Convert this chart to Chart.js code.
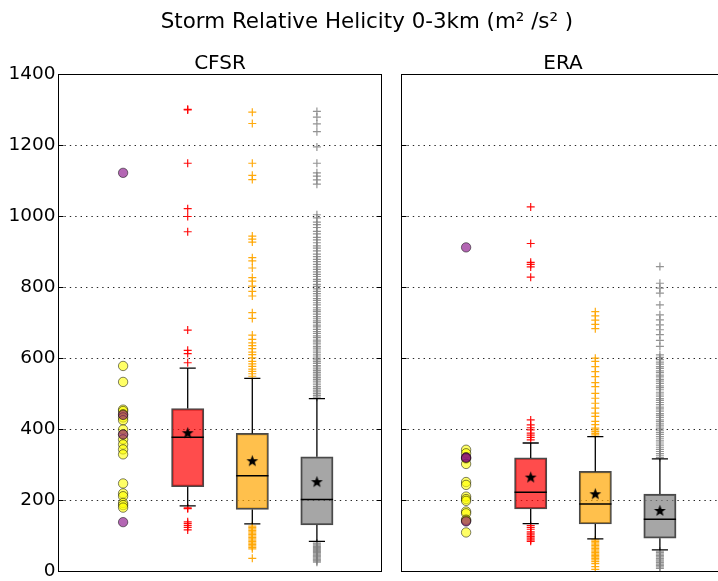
<!DOCTYPE html>
<html><head><meta charset="utf-8">
<script src="https://cdn.jsdelivr.net/npm/chart.js@4/dist/chart.umd.min.js"></script>
<style>
html,body{margin:0;padding:0;background:#fff;overflow:hidden;width:718px;height:581px;}
#wrap{position:relative;width:718px;height:581px;overflow:hidden;}
#c1{position:absolute;left:0;top:0;}
#c2{position:absolute;left:390px;top:0;}
</style></head><body>
<div id="wrap"><canvas id="c1" width="734" height="581"></canvas><canvas id="c2" width="345" height="581"></canvas></div>
<script>
// ---------- DATA ----------
const mainTitle = 'Storm Relative Helicity 0-3km (m² /s² )';
const panelNames = ['CFSR', 'ERA'];
const yTickValues = [0, 200, 400, 600, 800, 1000, 1200, 1400];
const circlePosition = 1;
const boxPositions = [2, 3, 4]; // red, orange, gray

const cfsrYellow = [579, 534, 456, 452, 443, 434, 426, 400, 386, 372, 358, 344, 330, 248, 220, 212, 193, 187, 180];
const cfsrPurple = [1123, 441, 386, 139];
const cfsrQ1 = [239, 175, 131];
const cfsrMedian = [378, 270, 203];
const cfsrQ3 = [459, 389, 323];
const cfsrMean = [391, 312, 253];
const cfsrLowWhisker = [185, 134, 85];
const cfsrHighWhisker = [573, 544, 487];
const cfsrRedOutliers = [1302, 1300, 1150, 1022, 1000, 957, 680, 623, 614, 588, 179, 177, 140, 135, 129, 124, 117];
const cfsrOrangeOutliers = [1294, 1262, 1150, 1116, 1104, 945, 936, 928, 884, 875, 855, 828, 818, 804, 789, 776, 729, 713, 666, 654, 644, 636, 628, 618, 611, 602, 592, 585, 578, 570, 564, 557, 550, 128, 124, 120, 116, 112, 108, 104, 100, 96, 92, 88, 84, 80, 76, 72, 68, 64, 37];
const cfsrGrayOutliers = [1296, 1280, 1261, 1239, 1196, 1150, 1123, 1114, 1103, 1091, 1005, 996, 984, 977, 969, 958, 951, 941, 934, 926, 917, 911, 903, 894, 887, 879, 873, 865, 858, 851, 844, 837, 831, 823, 817, 809, 803, 796, 789, 783, 776, 769, 764, 757, 751, 743, 737, 732, 725, 718, 712, 706, 701, 694, 689, 682, 676, 671, 664, 659, 652, 647, 641, 634, 629, 624, 618, 612, 607, 601, 596, 591, 586, 580, 576, 571, 566, 561, 556, 551, 546, 541, 536, 531, 526, 521, 516, 511, 506, 501, 496, 491, 80, 77, 74, 71, 68, 65, 62, 59, 56, 53, 50, 47, 44, 41, 38, 35, 32, 29, 26];

const eraYellow = [343, 333, 318, 303, 252, 244, 211, 204, 199, 169, 164, 146, 143, 110];
const eraPurple = [913, 322, 320, 141];
const eraQ1 = [176, 134, 94];
const eraMedian = [223, 190, 147];
const eraQ3 = [320, 282, 218];
const eraMean = [266, 219, 172];
const eraLowWhisker = [135, 92, 61];
const eraHighWhisker = [362, 380, 317];
const eraRedOutliers = [1027, 924, 871, 865, 858, 829, 427, 413, 405, 399, 390, 384, 378, 371, 129, 124, 119, 112, 108, 103, 98, 94, 89, 85];
const eraOrangeOutliers = [732, 720, 708, 696, 684, 601, 592, 577, 563, 549, 532, 521, 502, 488, 474, 460, 446, 437, 423, 414, 404, 399, 394, 389, 385, 89, 85, 81, 77, 73, 69, 65, 61, 57, 53, 49, 45, 41, 37, 33, 28, 22, 14, 6];
const eraGrayOutliers = [859, 812, 798, 784, 751, 723, 709, 695, 681, 667, 651, 634, 610, 603, 597, 590, 584, 577, 572, 565, 560, 553, 548, 541, 536, 530, 523, 518, 512, 505, 500, 494, 487, 482, 476, 470, 463, 458, 452, 445, 440, 434, 427, 422, 416, 410, 404, 398, 392, 386, 380, 374, 368, 362, 356, 350, 344, 338, 332, 326, 321, 57, 53, 49, 45, 41, 37, 33, 29, 25, 21, 17, 13, 9];

// ---------- STYLE ----------
const FONT = 'DejaVu Sans';
const boxFill = ['rgba(255,0,0,0.7)', 'rgba(255,165,0,0.7)', 'rgba(128,128,128,0.7)'];
const outlierColor = ['rgba(255,0,0,0.95)', 'rgba(255,165,0,0.95)', 'rgba(128,128,128,0.85)'];
const BOX_HALF = 0.25, CAP_HALF = 0.125;

function makeStar(size) {
  const c = document.createElement('canvas'); c.width = c.height = size;
  const g = c.getContext('2d'); const cx = size / 2, cy = size / 2 + 0.5, R = size / 2 - 0.3, r = R * 0.42;
  g.beginPath();
  for (let i = 0; i < 10; i++) {
    const a = -Math.PI / 2 + i * Math.PI / 5, rad = i % 2 === 0 ? R : r;
    g.lineTo(cx + rad * Math.cos(a), cy + rad * Math.sin(a));
  }
  g.closePath(); g.fillStyle = '#000'; g.fill();
  return c;
}
const starImg = makeStar(13);

const framePlugin = {
  id: 'frame',
  afterDatasetsDraw(chart) {
    const {ctx, chartArea: a, scales: {y}} = chart;
    ctx.save();
    ctx.strokeStyle = '#000'; ctx.lineWidth = 1; ctx.setLineDash([]);
    ctx.strokeRect(a.left, a.top, a.right - a.left, a.bottom - a.top);
    ctx.beginPath();
    for (const v of yTickValues) {
      const py = y.getPixelForValue(v);
      ctx.moveTo(a.left, py); ctx.lineTo(a.left + 5, py);
      ctx.moveTo(a.right, py); ctx.lineTo(a.right - 5, py);
    }
    ctx.stroke(); ctx.restore();
  }
};

function buildDatasets(d) {
  const ds = [];
  ds.push({type: 'scatter', data: d.purple.map(v => ({x: circlePosition, y: v})), pointStyle: 'circle', pointRadius: 4.7,
    backgroundColor: 'rgba(128,0,128,0.6)', borderColor: 'rgba(0,0,0,0.5)', borderWidth: 1, order: 6});
  ds.push({type: 'scatter', data: d.yellow.map(v => ({x: circlePosition, y: v})), pointStyle: 'circle', pointRadius: 4.7,
    backgroundColor: 'rgba(255,255,0,0.6)', borderColor: 'rgba(0,0,0,0.5)', borderWidth: 1, order: 7});
  d.outliers.forEach((arr, i) => {
    ds.push({type: 'scatter', data: arr.map(v => ({x: boxPositions[i], y: v})), pointStyle: 'cross', pointRadius: 4,
      borderColor: outlierColor[i], backgroundColor: outlierColor[i], borderWidth: 1.2, order: 8});
  });
  ds.push({type: 'bar', data: boxPositions.map((p, i) => ({x: p, y: [d.q1[i], d.q3[i]]})), backgroundColor: boxFill,
    borderColor: '#4a4a4a', borderWidth: 1.6, borderSkipped: false, barThickness: 32.3, grouped: false, order: 5});
  const wh = [];
  boxPositions.forEach((p, i) => {
    wh.push({x: p, y: d.q3[i]}, {x: p, y: d.hi[i]}, {x: p, y: null});
    wh.push({x: p, y: d.q1[i]}, {x: p, y: d.lo[i]}, {x: p, y: null});
    wh.push({x: p - CAP_HALF, y: d.hi[i]}, {x: p + CAP_HALF, y: d.hi[i]}, {x: p, y: null});
    wh.push({x: p - CAP_HALF, y: d.lo[i]}, {x: p + CAP_HALF, y: d.lo[i]}, {x: p, y: null});
  });
  ds.push({type: 'line', data: wh, borderColor: '#000', borderWidth: 1.3, pointRadius: 0, spanGaps: false, fill: false, order: 4});
  const md = [];
  boxPositions.forEach((p, i) => { md.push({x: p - BOX_HALF, y: d.med[i]}, {x: p + BOX_HALF, y: d.med[i]}, {x: p, y: null}); });
  ds.push({type: 'line', data: md, borderColor: '#000', borderWidth: 1.5, pointRadius: 0, spanGaps: false, fill: false, order: 3});
  ds.push({type: 'scatter', data: boxPositions.map((p, i) => ({x: p, y: d.mean[i]})), pointStyle: starImg, pointRadius: 6, order: 1});
  return ds;
}

const TITLE_SIZE = 21.4, TITLE_PAD = 8, TOP_PAD = 2;
const titleBlock = TITLE_SIZE * 1.2 + TITLE_PAD;
const xAxisH = 74.5 - TOP_PAD - titleBlock;

function makeChart(canvas, d, name, isLeft) {
  return new Chart(canvas, {
    type: 'scatter',
    data: {datasets: buildDatasets(d)},
    options: {
      responsive: false, animation: false, events: [],
      layout: {padding: isLeft ? {left: 0, top: TOP_PAD, right: 0, bottom: 9.5} : {left: 11.5, top: TOP_PAD + titleBlock, right: 10.5, bottom: 9.5}},
      plugins: {
        legend: {display: false}, tooltip: {enabled: false},
        title: {display: isLeft, text: mainTitle, color: '#000', font: {family: FONT, size: TITLE_SIZE, weight: 'normal'}, padding: {top: TITLE_PAD, bottom: 0}}
      },
      scales: {
        x: {type: 'linear', position: 'top', min: 0, max: 5, offset: false, ticks: {display: false}, grid: {display: false, offset: false}, border: {display: false},
          title: {display: true, text: name, color: '#000', font: {family: FONT, size: 20}, padding: {top: 16, bottom: 0}},
          afterFit(s) { s.height = xAxisH; s.paddingLeft = 0; s.paddingRight = 0; }},
        y: {type: 'linear', position: 'left', min: 0, max: 1400,
          ticks: {display: isLeft, stepSize: 200, color: '#000', font: {family: FONT, size: 18.5}, padding: 3, callback: v => String(v)},
          grid: {color: 'rgba(0,0,0,0.85)', lineWidth: 1, drawTicks: false},
          border: {display: false, dash: [1.4, 4]},
          afterFit(s) { s.width = isLeft ? 58.5 : 0; s.paddingTop = 0; s.paddingBottom = 0; }},
        ...(isLeft ? {y2: {type: 'linear', position: 'right', axis: 'y', ticks: {display: false}, grid: {display: false}, border: {display: false},
          afterFit(s) { s.width = 734 - 381.5; s.paddingTop = 0; s.paddingBottom = 0; }}} : {})
      }
    },
    plugins: [framePlugin]
  });
}

makeChart(document.getElementById('c1'), {
  yellow: cfsrYellow, purple: cfsrPurple, q1: cfsrQ1, med: cfsrMedian, q3: cfsrQ3, mean: cfsrMean,
  lo: cfsrLowWhisker, hi: cfsrHighWhisker, outliers: [cfsrRedOutliers, cfsrOrangeOutliers, cfsrGrayOutliers]
}, panelNames[0], true);
makeChart(document.getElementById('c2'), {
  yellow: eraYellow, purple: eraPurple, q1: eraQ1, med: eraMedian, q3: eraQ3, mean: eraMean,
  lo: eraLowWhisker, hi: eraHighWhisker, outliers: [eraRedOutliers, eraOrangeOutliers, eraGrayOutliers]
}, panelNames[1], false);
</script>
</body></html>
